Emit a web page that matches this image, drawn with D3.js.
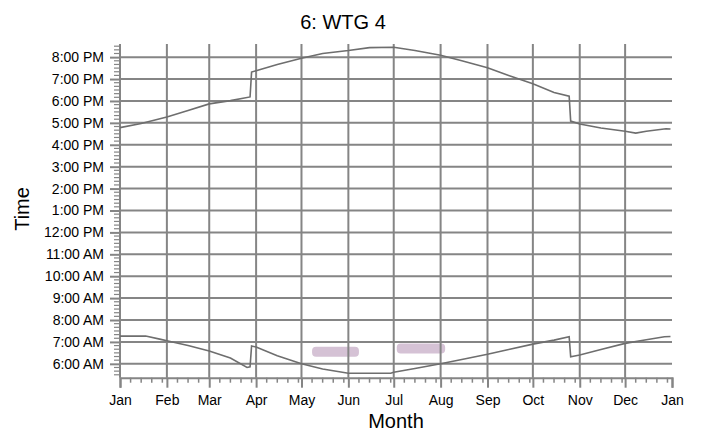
<!DOCTYPE html>
<html><head><meta charset="utf-8">
<script src="https://cdn.jsdelivr.net/npm/d3@7"></script>
<style>
html,body{margin:0;padding:0;background:#fff;}
svg{display:block;font-family:"Liberation Sans",Arial,sans-serif;}
</style></head>
<body><svg id="c" width="701" height="434"></svg>
<script>
const title = "6: WTG 4";
const xTitle = "Month";
const yTitle = "Time";
const monthLabels = ["Jan","Feb","Mar","Apr","May","Jun","Jul","Aug","Sep","Oct","Nov","Dec","Jan"];
const hourTicks = [6,7,8,9,10,11,12,13,14,15,16,17,18,19,20];

// sunset (local clock time)
const sunsetDates = ["2009-01-01","2009-01-15","2009-02-01","2009-02-15","2009-03-01","2009-03-15","2009-03-28","2009-03-29","2009-04-01","2009-04-15","2009-05-01","2009-05-15","2009-06-01","2009-06-15","2009-07-01","2009-07-15","2009-08-01","2009-08-15","2009-09-01","2009-09-15","2009-10-01","2009-10-15","2009-10-25","2009-10-26","2009-11-01","2009-11-15","2009-12-01","2009-12-08","2009-12-15","2009-12-28","2009-12-31"];
const sunsetTimes = ["16:47","16:58","17:16","17:34","17:52","18:01","18:11","19:19","19:23","19:40","19:57","20:10","20:18","20:26","20:27","20:18","20:05","19:50","19:31","19:10","18:47","18:23","18:13","17:05","16:57","16:46","16:37","16:32","16:37","16:44","16:43"];

// sunrise (local clock time)
const sunriseDates = ["2009-01-01","2009-01-18","2009-01-28","2009-02-01","2009-02-15","2009-03-01","2009-03-15","2009-03-26","2009-03-28","2009-03-29","2009-04-01","2009-04-15","2009-05-01","2009-05-15","2009-06-01","2009-06-29","2009-07-01","2009-07-15","2009-08-01","2009-08-15","2009-09-01","2009-09-15","2009-10-01","2009-10-15","2009-10-25","2009-10-26","2009-11-01","2009-11-15","2009-12-01","2009-12-15","2009-12-27","2009-12-31"];
const sunriseTimes = ["07:16","07:16","07:07","07:03","06:50","06:35","06:16","05:50","05:52","06:49","06:46","06:22","06:00","05:46","05:34","05:34","05:37","05:47","06:00","06:12","06:26","06:39","06:54","07:05","07:14","06:19","06:24","06:39","06:56","07:06","07:14","07:15"];

// faint marks seen in the plot
const blobStart = ["2009-05-08","2009-07-03"];
const blobEnd = ["2009-06-08","2009-08-04"];
const blobTime = ["06:33","06:42"];

const parseD = d3.timeParse("%Y-%m-%d");
const toMin = s => { const [h,m] = s.split(":").map(Number); return h*60+m; };

const svg = d3.select("#c");
const L = 120, R = 672, T = 44, B = 377.7;
const x = d3.scaleTime().domain([parseD("2009-01-01"), parseD("2010-01-01")]).range([L, R]);
const y = d3.scaleLinear().domain([322, 1236]).range([B, T]);

const gridCol = "#858585", lineCol = "#6e6e6e";

// blobs
svg.append("g").selectAll("rect").data(blobStart.map((s,i)=>({s:parseD(s),e:parseD(blobEnd[i]),t:toMin(blobTime[i])})))
  .join("rect")
  .attr("x", d=>x(d.s)).attr("width", d=>x(d.e)-x(d.s))
  .attr("y", d=>y(d.t)-5).attr("height", 10).attr("rx", 4)
  .attr("fill", "#d5c2d5");

// horizontal grid
svg.append("g").selectAll("line").data(hourTicks).join("line")
  .attr("x1", L).attr("x2", R).attr("y1", d=>y(d*60)).attr("y2", d=>y(d*60))
  .attr("stroke", gridCol).attr("stroke-width", 2);

// vertical grid
const months = d3.timeMonth.range(parseD("2009-01-01"), parseD("2010-01-02"));
svg.append("g").selectAll("line").data(months.slice(1,12)).join("line")
  .attr("x1", d=>x(d)).attr("x2", d=>x(d)).attr("y1", T).attr("y2", B)
  .attr("stroke", gridCol).attr("stroke-width", 2);

// x axis
const xAxis = d3.axisBottom(x).tickValues(months).tickFormat((d,i)=>monthLabels[i]).tickSize(10).tickPadding(7);
const gx = svg.append("g").attr("transform", `translate(0,${B})`).call(xAxis);
gx.select(".domain").attr("stroke", gridCol).attr("stroke-width", 2);
gx.selectAll(".tick line").attr("stroke", gridCol).attr("stroke-width", 2);
gx.selectAll("text").attr("font-size", 14).attr("fill", "#000").attr("font-family", "Liberation Sans, Arial, sans-serif");
// minor x ticks
const minorX = [];
months.slice(0,12).forEach(m => [8,15,22,29].forEach(dd => {
  const d = new Date(m.getFullYear(), m.getMonth(), dd);
  if (d.getMonth() === m.getMonth()) minorX.push(d);
}));
svg.append("g").selectAll("line").data(minorX).join("line")
  .attr("x1", d=>x(d)).attr("x2", d=>x(d)).attr("y1", B).attr("y2", B+5)
  .attr("stroke", gridCol).attr("stroke-width", 1.5);

// y axis
const fmtHour = h => { const hh = h%12===0?12:h%12; return `${hh}:00 ${h<12?"AM":"PM"}`; };
const yAxis = d3.axisLeft(y).tickValues(hourTicks.map(h=>h*60)).tickFormat(v=>fmtHour(v/60)).tickSize(10).tickPadding(6);
const gy = svg.append("g").attr("transform", `translate(${L},0)`).call(yAxis);
gy.select(".domain").attr("stroke", gridCol).attr("stroke-width", 2).attr("d", `M0,${T}V${B}`);
gy.selectAll(".tick line").attr("stroke", gridCol).attr("stroke-width", 2);
gy.selectAll("text").attr("font-size", 14).attr("fill", "#000").attr("font-family", "Liberation Sans, Arial, sans-serif");
const minorY = d3.range(330, 1236, 10).filter(v => v % 60 !== 0);
svg.append("g").selectAll("line").data(minorY).join("line")
  .attr("x1", L-6).attr("x2", L).attr("y1", d=>y(d)).attr("y2", d=>y(d))
  .attr("stroke", gridCol).attr("stroke-width", 1.2);

// lines
const line = d3.line().x(d=>x(d.d)).y(d=>y(d.t));
const sunset = sunsetDates.map((s,i)=>({d:parseD(s), t:toMin(sunsetTimes[i])}));
const sunrise = sunriseDates.map((s,i)=>({d:parseD(s), t:toMin(sunriseTimes[i])}));
[sunset, sunrise].forEach(s => svg.append("path").datum(s).attr("d", line)
  .attr("fill","none").attr("stroke", lineCol).attr("stroke-width", 1.6));

// titles
svg.append("text").attr("x", 343).attr("y", 29).attr("text-anchor","middle").attr("font-size", 20).text(title);
svg.append("text").attr("x", (L+R)/2).attr("y", 428).attr("text-anchor","middle").attr("font-size", 20).text(xTitle);
svg.append("text").attr("transform", `translate(29,209) rotate(-90)`).attr("text-anchor","middle").attr("font-size", 20).text(yTitle);
</script></body></html>
